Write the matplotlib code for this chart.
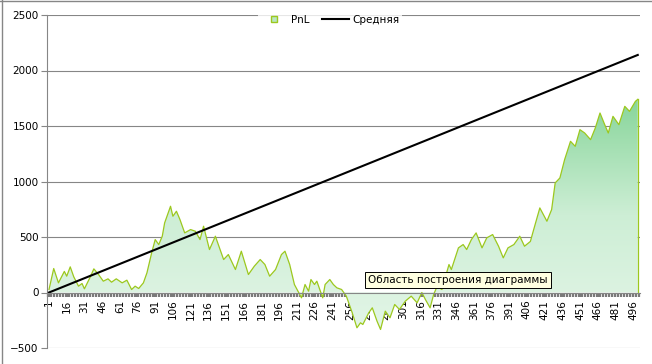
import matplotlib
matplotlib.use('Agg')
import matplotlib.pyplot as plt
from matplotlib.colors import LinearSegmentedColormap
from matplotlib.lines import Line2D
import numpy as np

# PnL (trade number, value)
pnl_idx = [1, 5, 9, 14, 16, 19, 22, 26, 29, 31, 36, 39, 43, 47, 51, 54, 58, 63, 67, 71,
           74, 77, 81, 84, 88, 91, 94, 97, 99, 104, 106, 109, 112, 116, 121, 125, 129, 132, 137, 142,
           149, 153, 159, 164, 170, 175, 180, 184, 188, 193, 198, 201, 205, 209, 215, 218, 221, 223, 226, 228,
           233, 235, 239, 242, 245, 249, 253, 258, 262, 265, 267, 272, 275, 279, 282, 286, 290, 294, 298, 303,
           308, 313, 317, 320, 324, 327, 330, 334, 340, 342, 348, 352, 355, 359, 363, 368, 372, 377, 382, 386,
           390, 395, 400, 404, 409, 411, 417, 423, 427, 430, 434, 438, 443, 447, 451, 455, 460, 464, 468, 472,
           475, 479, 484, 489, 493, 498, 500]
pnl_val = [27, 216, 87, 190, 147, 231, 141, 57, 81, 33, 141, 213, 162, 102, 123, 93, 123, 87, 111, 27,
           57, 36, 87, 177, 357, 477, 432, 507, 627, 777, 687, 732, 657, 537, 567, 552, 477, 597, 387, 507,
           297, 342, 207, 372, 162, 237, 297, 252, 147, 207, 342, 372, 252, 72, -48, 72, 12, 117, 72, 102,
           -48, 72, 117, 72, 42, 27, -33, -183, -318, -273, -288, -183, -138, -258, -333, -168, -228, -108, -153, -78,
           -33, -93, 0, -63, -138, -18, 57, 27, 252, 207, 402, 432, 387, 477, 537, 402, 492, 522, 417, 312,
           402, 432, 507, 417, 460, 537, 762, 642, 747, 987, 1032, 1197, 1362, 1317, 1467, 1437, 1377, 1482, 1617, 1512,
           1437, 1587, 1512, 1677, 1632, 1722, 1740]

# "Средняя" - straight line, endpoints
avg_idx = [1, 500]
avg_val = [0, 2140]

x_labels = list(range(1, 497, 15))
y_ticks = [-500, 0, 500, 1000, 1500, 2000, 2500]

grid_c = '#868686'
edge_c = '#9cc81e'
fs = 7.5

fig = plt.figure(figsize=(6.52, 3.64), dpi=100)
ax = fig.add_axes([47 / 652, 16 / 364, 593 / 652, 333 / 364])

x0, x1 = -0.7, 501.9
ax.set_xlim(x0, x1)
ax.set_ylim(-500, 2500)

# gradient fill clipped to the PnL area
poly = ax.fill_between(pnl_idx, pnl_val, 0, facecolor='none', edgecolor='none')
cmap = LinearSegmentedColormap.from_list('pnl', ['#e4f6e8', '#cdeed5', '#84d497'])
gradient = np.linspace(0, 1, 256).reshape(256, 1)
im = ax.imshow(gradient, extent=[x0, x1, -400, 1800], aspect='auto', cmap=cmap,
               origin='lower', zorder=1)
im.set_clip_path(poly.get_paths()[0], transform=ax.transData)
ax.plot(pnl_idx, pnl_val, color=edge_c, lw=0.9, zorder=2)
ax.plot([pnl_idx[-1], pnl_idx[-1]], [pnl_val[-1], 0], color=edge_c, lw=0.9, zorder=2)

ax.plot(avg_idx, avg_val, color='black', lw=1.5, zorder=3)

# axes styling, excel-like
ax.set_yticks(y_ticks)
ax.yaxis.grid(True, color=grid_c, lw=0.8)
ax.set_axisbelow(True)
for s in ['top', 'right']:
    ax.spines[s].set_visible(False)
ax.spines['left'].set_color(grid_c)
ax.spines['left'].set_linewidth(0.8)
ax.spines['bottom'].set_position(('data', 0))
ax.spines['bottom'].set_color(grid_c)
ax.spines['bottom'].set_linewidth(0.8)
ax.spines['bottom'].set_zorder(4)
ax.tick_params(axis='y', colors=grid_c, labelcolor='black', length=4, width=0.8,
               labelsize=fs, pad=2)

ax.set_xticks(x_labels)
ax.set_xticklabels([str(v) for v in x_labels], rotation=90, fontsize=fs)
ax.set_xticks(np.arange(0.5, 501, 2.54), minor=True)
ax.tick_params(axis='x', which='both', colors='#7a7a7a', labelcolor='black', length=3.2,
               width=1.6, direction='out', pad=2)

# legend
handles = [Line2D([], [], marker='s', markersize=5, mfc='#b8e6c2', mec=edge_c, ls=''),
           Line2D([], [], color='black', lw=1.5)]
fig.legend(handles, ['PnL', 'Средняя'], loc='center', bbox_to_anchor=(330 / 652, 1 - 20 / 364),
           ncol=2, fontsize=fs, frameon=True, facecolor='white', edgecolor='none',
           fancybox=False, handlelength=2.6, columnspacing=1.2, handletextpad=0.3,
           borderpad=0.3)

# tooltip left over in the screenshot
fig.text(368 / 652, 1 - 280 / 364, 'Область построения диаграммы', fontsize=fs,
         va='center', ha='left',
         bbox=dict(boxstyle='square,pad=0.3', fc='#ffffe1', ec='black', lw=0.7))

# chart border
fig.add_artist(Line2D([1.5 / 652, 1.5 / 652], [0, 1], color=grid_c, lw=1))
fig.add_artist(Line2D([0, 1], [1 - 1 / 364, 1 - 1 / 364], color=grid_c, lw=1))

fig.savefig('out.png', dpi=100)
